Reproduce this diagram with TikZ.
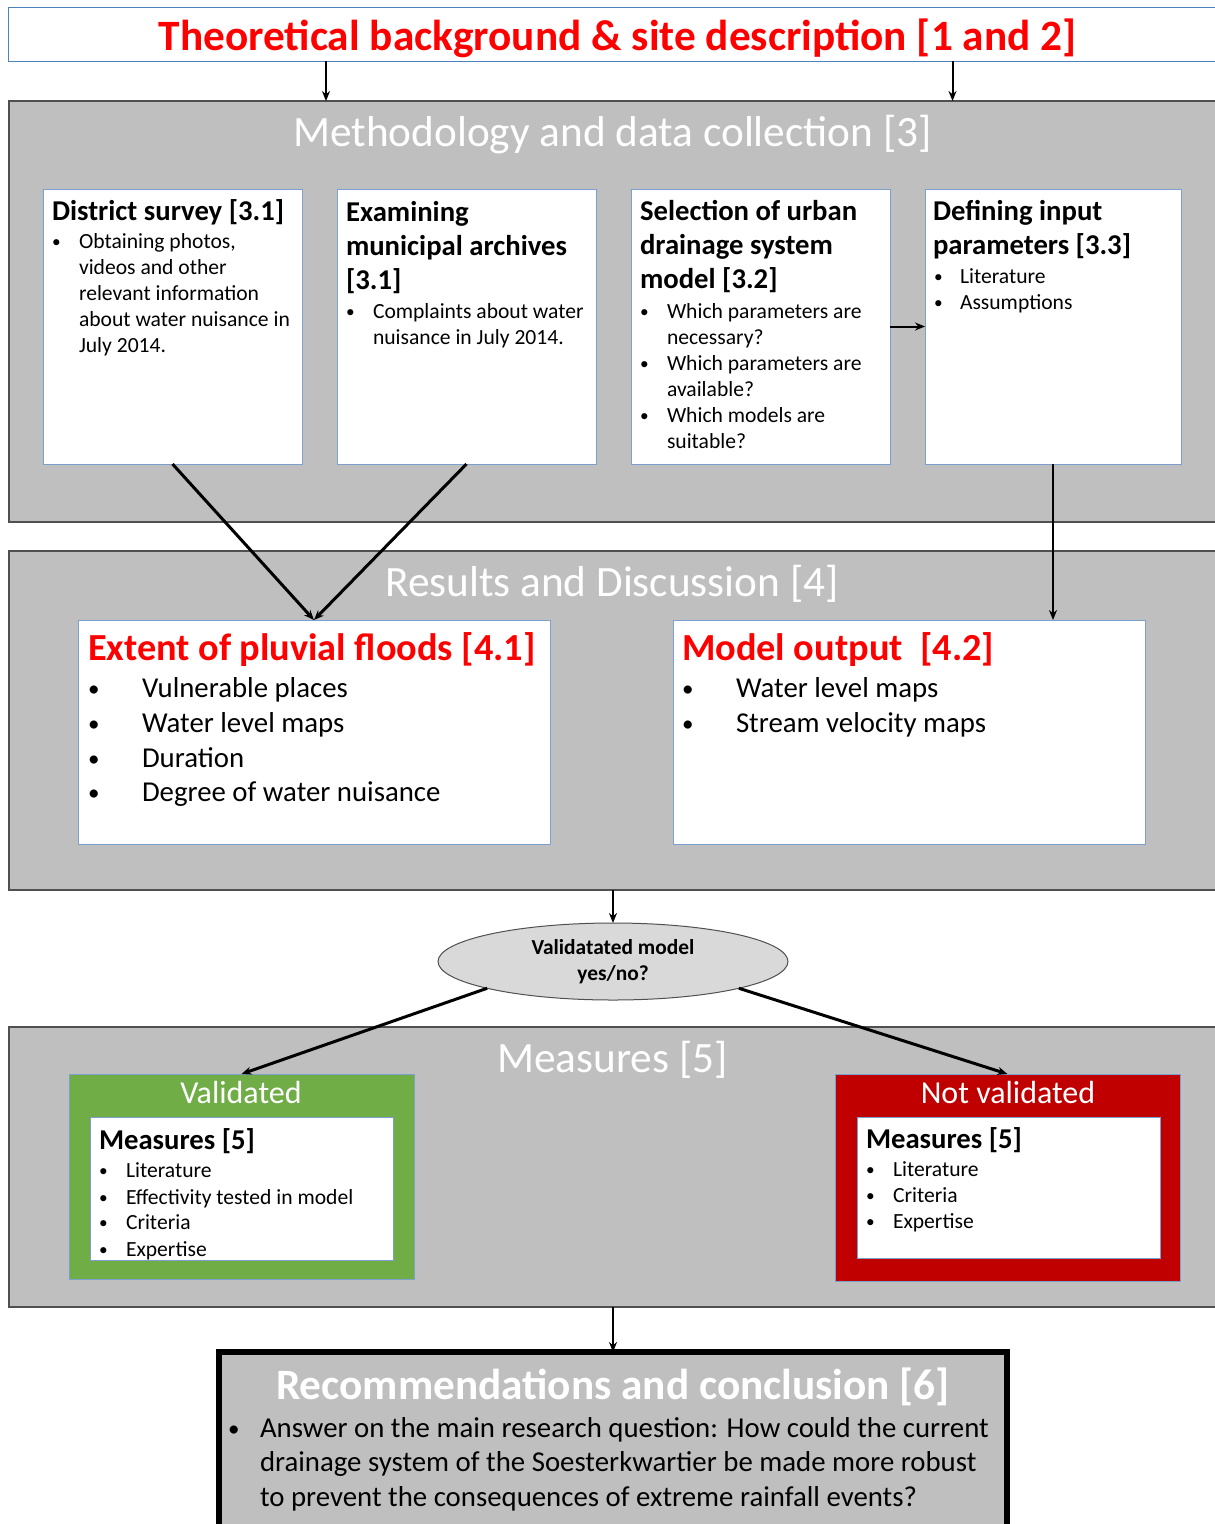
\documentclass[tikz,border=0pt]{standalone}
\usepackage{fontspec}
\setmainfont{Carlito}
\usetikzlibrary{arrows.meta,shapes.geometric}
\definecolor{fillgray}{RGB}{191,191,191}
\definecolor{edgegray}{RGB}{80,80,80}
\definecolor{boxblue}{RGB}{124,160,205}
\definecolor{titleblue}{RGB}{79,129,189}
\definecolor{ellgray}{RGB}{217,217,217}
\definecolor{okgreen}{RGB}{112,173,71}
\definecolor{nored}{RGB}{192,0,0}
\definecolor{brightred}{RGB}{255,0,0}
\newcommand\fsz[2]{\fontsize{#1}{#2}\selectfont}
\newcommand\txtline[5][bt]{\node[#1] (#2) at (#3,#4) {#5};}
\newcommand\bulline[6][sm]{\node[#1] (#2) at (#4,#5) {#6};\node[#1] (#2b) at (#3,#5) {\raisebox{0.03em}{\scalebox{0.8}{•}}};}
\begin{document}
\begin{tikzpicture}[x=1pt,y=-1pt,
  every node/.style={inner sep=0pt, outer sep=0pt},
  gbox/.style={draw=edgegray, line width=2pt, fill=fillgray, anchor=north west},
  wbox/.style={draw=boxblue, line width=1pt, fill=white, anchor=north west},
  hd/.style={text=white, font=\fsz{43.3}{52}, anchor=base},
  ttl/.style={text=brightred, font=\bfseries\fsz{43.3}{52}, anchor=base},
  sub/.style={text=brightred, font=\bfseries\fsz{38.3}{46}, anchor=base west},
  bt/.style={font=\bfseries\fsz{28.7}{34}, anchor=base west},
  sm/.style={font=\fsz{21.6}{26}, anchor=base west},
  rb/.style={font=\fsz{28.8}{35}, anchor=base west},
  vt/.style={text=white, font=\fsz{32}{38}, anchor=base},
  arr/.style={-{Stealth[length=10pt,width=8pt]}, line width=2pt},
  thickarr/.style={arr, line width=3pt},
]
\useasboundingbox (0,0) rectangle (1215,1524);
\clip (0,0) rectangle (1215,1524);
\fill[white] (0,0) rectangle (1215,1524);

% title
\node[draw=titleblue, line width=1pt, fill=white, anchor=north west, minimum width=1212pt, minimum height=54pt] (title) at (8,7) {};
\node[ttl] (titletext) at (617.5,50) {Theoretical background \& site description [1 and 2]};

% methodology
\node[gbox, minimum width=1212pt, minimum height=421pt] (meth) at (9,101) {};
\node[hd] (methtext) at (612.5,146) {Methodology and data collection [3]};
\node[wbox, minimum width=259pt, minimum height=275pt] (b1) at (43,189) {};
\node[wbox, minimum width=259pt, minimum height=275pt] (b2) at (337,189) {};
\node[wbox, minimum width=259pt, minimum height=275pt] (b3) at (631,189) {};
\node[wbox, minimum width=256pt, minimum height=275pt] (b4) at (925,189) {};

\txtline{b1t1}{52}{220}{District survey [3.1]}
\bulline{b1l1}{52}{79}{248}{Obtaining photos,}
\txtline[sm]{b1l2}{79}{274}{videos and other}
\txtline[sm]{b1l3}{79}{300}{relevant information}
\txtline[sm]{b1l4}{79}{326}{about water nuisance in}
\txtline[sm]{b1l5}{79}{352}{July 2014.}

\txtline{b2t1}{346}{221}{Examining}
\txtline{b2t2}{346}{255}{municipal archives}
\txtline{b2t3}{346}{289}{[3.1]}
\bulline{b2l1}{346}{373}{318}{Complaints about water}
\txtline[sm]{b2l2}{373}{344}{nuisance in July 2014.}

\txtline{b3t1}{640}{220}{Selection of urban}
\txtline{b3t2}{640}{254}{drainage system}
\txtline{b3t3}{640}{288}{model [3.2]}
\bulline{b3l1}{640}{667}{318}{Which parameters are}
\txtline[sm]{b3l2}{667}{344}{necessary?}
\bulline{b3l3}{640}{667}{370}{Which parameters are}
\txtline[sm]{b3l4}{667}{396}{available?}
\bulline{b3l5}{640}{667}{422}{Which models are}
\txtline[sm]{b3l6}{667}{448}{suitable?}

\txtline{b4t1}{933}{220}{Defining input}
\txtline{b4t2}{933}{254}{parameters [3.3]}
\bulline{b4l1}{934}{960}{283}{Literature}
\bulline{b4l2}{934}{960}{309}{Assumptions}

% results
\node[gbox, minimum width=1212pt, minimum height=339pt] (res) at (9,551) {};
\node[hd] (restext) at (612,596) {Results and Discussion [4]};
\node[wbox, minimum width=472pt, minimum height=224pt] (ext) at (78,620) {};
\node[wbox, minimum width=472pt, minimum height=224pt] (mod) at (673,620) {};
\txtline[sub]{extt}{88}{660}{Extent of pluvial floods [4.1]}
\bulline[rb]{extl1}{88}{142}{697}{Vulnerable places}
\bulline[rb]{extl2}{88}{142}{732}{Water level maps}
\bulline[rb]{extl3}{88}{142}{767}{Duration}
\bulline[rb]{extl4}{88}{142}{801}{Degree of water nuisance}
\txtline[sub]{modt}{682}{660}{Model output\ \ [4.2]}
\bulline[rb]{modl1}{682}{736}{697}{Water level maps}
\bulline[rb]{modl2}{682}{736}{732}{Stream velocity maps}

% decision
\node[ellipse, draw=edgegray, line width=1pt, fill=ellgray, minimum width=350pt, minimum height=77pt, font=\bfseries\fsz{21.4}{26}, align=center] (ell) at (613,961.5) {Validatated model\\yes/no?};

% measures
\node[gbox, minimum width=1212pt, minimum height=280pt] (meas) at (9,1027) {};
\node[hd] (meastext) at (612.5,1072) {Measures [5]};
\node[draw=boxblue, line width=0.8pt, fill=okgreen, anchor=north west, minimum width=345pt, minimum height=205pt] (val) at (69,1074) {};
\node[vt] (valtext) at (241,1103) {Validated};
\node[wbox, minimum width=303pt, minimum height=143pt] (valin) at (90,1117) {};
\txtline{valt}{99}{1149}{Measures [5]}
\bulline{vall1}{99}{126}{1177}{Literature}
\bulline{vall2}{99}{126}{1204}{Effectivity tested in model}
\bulline{vall3}{99}{126}{1229}{Criteria}
\bulline{vall4}{99}{126}{1256}{Expertise}

\node[draw=boxblue, line width=0.8pt, fill=nored, anchor=north west, minimum width=345pt, minimum height=207pt] (nval) at (835,1074) {};
\node[vt] (nvaltext) at (1008,1103) {Not validated};
\node[wbox, minimum width=303pt, minimum height=141pt] (nvalin) at (857,1117) {};
\txtline{nvalt}{866}{1148}{Measures [5]}
\bulline{nvall1}{866}{893}{1176}{Literature}
\bulline{nvall2}{866}{893}{1202}{Criteria}
\bulline{nvall3}{866}{893}{1228}{Expertise}

% recommendations
\node[draw=black, line width=6pt, fill=fillgray, anchor=north west, minimum width=788pt, minimum height=175pt] (rec) at (219,1352) {};
\node[hd, font=\bfseries\fsz{43.3}{52}] (rectext) at (613,1399) {Recommendations and conclusion [6]};
\bulline[rb]{recl1}{228}{260}{1437}{Answer on the main research question: How could the current}
\txtline[rb]{recl2}{260}{1471}{drainage system of the Soesterkwartier be made more robust}
\txtline[rb]{recl3}{260}{1506}{to prevent the consequences of extreme rainfall events?}

% connectors
\draw[arr] ([xshift=-288pt]title.south) -- ([xshift=-288pt]title.south |- meth.north);
\draw[arr] ([xshift=338.5pt]title.south) -- ([xshift=338.5pt]title.south |- meth.north);
\draw[thickarr] (b1.south) -- (ext.north);
\draw[thickarr] (b2.south) -- (ext.north);
\draw[arr] (b3.east) -- (b4.west);
\draw[arr] (b4.south) -- (b4.south |- mod.north);
\draw[arr] (res.south -| ell.north) -- (ell.north);
\draw[thickarr] (ell.192) -- (val.north);
\draw[thickarr] (ell.348) -- (nval.north);
\draw[arr] (meas.south -| rec.north) -- (rec.north);
\end{tikzpicture}
\end{document}
